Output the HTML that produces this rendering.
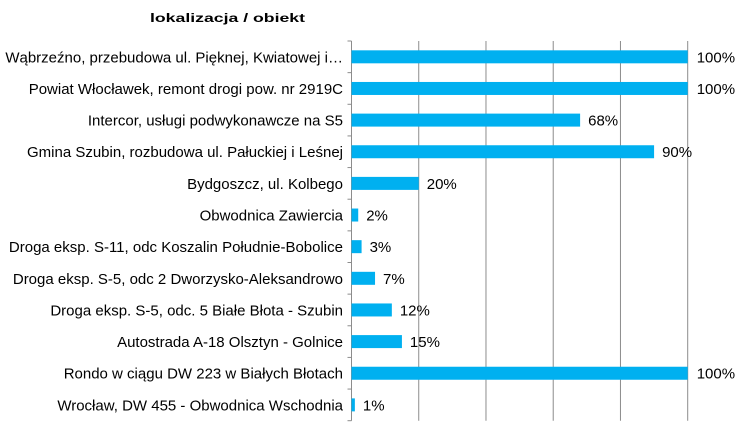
<!DOCTYPE html>
<html><head><meta charset="utf-8"><style>
html,body{margin:0;padding:0;background:#fff;}
svg{display:block;font-family:"Liberation Sans",sans-serif;}
</style></head><body>
<svg id="chart" width="744" height="431">
<text x="150" y="22" font-size="12" font-weight="bold" fill="#000" textLength="155" lengthAdjust="spacingAndGlyphs">lokalizacja / obiekt</text>
<g id="grid"></g><g id="bars"></g><g id="labels"></g>
</svg>
<script>
const categories = ["Wąbrzeźno, przebudowa ul. Pięknej, Kwiatowej i…","Powiat Włocławek, remont drogi pow. nr 2919C","Intercor, usługi podwykonawcze na S5","Gmina Szubin, rozbudowa ul. Pałuckiej i Leśnej","Bydgoszcz, ul. Kolbego","Obwodnica Zawiercia","Droga eksp. S-11, odc Koszalin Południe-Bobolice","Droga eksp. S-5, odc 2 Dworzysko-Aleksandrowo","Droga eksp. S-5, odc. 5 Białe Błota - Szubin","Autostrada A-18 Olsztyn - Golnice","Rondo w ciągu DW 223 w Białych Błotach","Wrocław, DW 455 - Obwodnica Wschodnia"];
const values = [100,100,68,90,20,2,3,7,12,15,100,1];
const ticks = [0,20,40,60,80,100];
const NS="http://www.w3.org/2000/svg";
const x0=351.5,x1=687.7,yTop=41,yBot=420.7;
const xs=v=>x0+(x1-x0)*v/100;
const band=(yBot-yTop)/categories.length;
const yc=i=>yTop+band*(i+0.5);
function mk(t,a,p){const e=document.createElementNS(NS,t);for(const k in a)e.setAttribute(k,a[k]);p.appendChild(e);return e;}
const grid=document.getElementById('grid'),bars=document.getElementById('bars'),labels=document.getElementById('labels');
ticks.forEach(t=>{if(t===0)return;const l=mk('line',{x1:xs(t),x2:xs(t),y1:yTop,y2:yBot,stroke:'#8c8c8c','stroke-width':1},grid);

});
const ax=mk('line',{x1:x0,x2:x0,y1:yTop,y2:yBot,stroke:'#8c8c8c','stroke-width':1},grid);


for(let i=0;i<=categories.length;i++){const tk=mk('line',{x1:x0-4,x2:x0,y1:yTop+band*i,y2:yTop+band*i,stroke:'#8c8c8c'},grid);

}
categories.forEach((c,i)=>{
const r=mk('rect',{x:x0,y:yc(i)-6.5,width:xs(values[i])-x0,height:13,fill:'#00b0f0'},bars);


const v=mk('text',{x:xs(values[i])+(values[i]>=100?9:8),y:yc(i)+5.5,'font-size':15,fill:'#000'},labels);
v.textContent=values[i]+'%';


const t=mk('text',{x:343,y:yc(i)+5.5,'font-size':15,'text-anchor':'end',fill:'#000'},labels);
t.textContent=c;


});
</script>
</body></html>
